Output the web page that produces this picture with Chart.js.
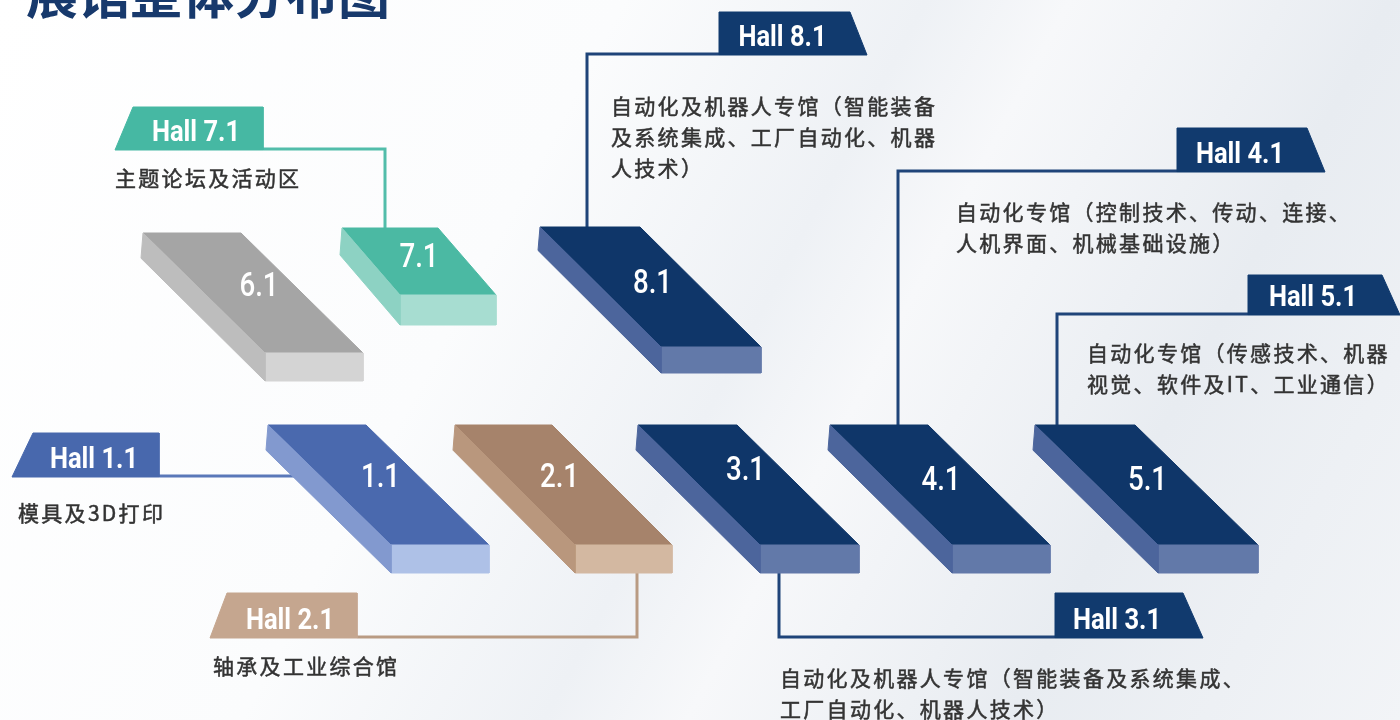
<!DOCTYPE html>
<html>
<head>
<meta charset="utf-8">
<script src="https://cdn.jsdelivr.net/npm/chart.js@4.4.1/dist/chart.umd.min.js"></script>
<style>
  html, body { margin: 0; padding: 0; }
  body {
    width: 1400px; height: 720px; overflow: hidden;
    background: linear-gradient(118deg, #ffffff 0%, #fbfcfd 35%, #eef1f5 52%, #f7f8fa 60%, #e8ecf1 78%, #f2f4f7 100%);
  }
  #floor { display: block; }
</style>
</head>
<body>
<canvas id="floor" width="1400" height="720"></canvas>
<script>
const pageTitle = '展馆整体分布图';

// halls, in drawing order
const hallIds   = ['6.1', '7.1', '8.1', '1.1', '2.1', '3.1', '4.1', '5.1'];
const hallTags  = ['', 'Hall 7.1', 'Hall 8.1', 'Hall 1.1', 'Hall 2.1', 'Hall 3.1', 'Hall 4.1', 'Hall 5.1'];
const hallThemes = [
  [],
  ['主题论坛及活动区'],
  ['自动化及机器人专馆（智能装备', '及系统集成、工厂自动化、机器', '人技术）'],
  ['模具及3D打印'],
  ['轴承及工业综合馆'],
  ['自动化及机器人专馆（智能装备及系统集成、', '工厂自动化、机器人技术）'],
  ['自动化专馆（控制技术、传动、连接、', '人机界面、机械基础设施）'],
  ['自动化专馆（传感技术、机器', '视觉、软件及IT、工业通信）']
];
const hallGroup = ['grey', 'teal', 'navy', 'blue', 'tan', 'navy', 'navy', 'navy'];

// ---- layout (plot units = pixels, y down) ----
// slab: roof top-left corner, roof width, skew, depth, wall height
const slabX  = [143, 342, 540, 268, 455, 638, 830, 1035];
const slabY  = [233, 228, 227, 425, 425, 425, 425, 425];
const slabW  = [98, 96, 100, 98, 97, 99, 98, 100];
const slabDx = [122, 58, 121, 123, 120, 122, 122, 123];
const slabH  = [120, 67, 120, 120, 120, 120, 120, 120];
const slabT  = [28, 30, 26, 28, 28, 28, 28, 28];
const labelDx = [6, 0, 2, 2, -4, -3, 1, 1];
const labelDy = [-5, -3, -2, -6, -6, -13, -3, -3];

// tag boxes: slant < 0 cuts the left side, > 0 the right side
const tagLeft   = [0, 133, 719, 33, 227, 1055, 1177, 1248];
const tagRight  = [0, 263, 850, 159, 357, 1183, 1307, 1382];
const tagTop    = [0, 107, 12, 433, 593, 593, 128, 275];
const tagBottom = [0, 150, 55, 477, 638, 638, 172, 315];
const tagSlant  = [0, -18, 17, -21, -17, 20, 18, 18];

// leader lines from tag to hall
const leaderX = [[], [263, 385, 385], [719, 587, 587], [159, 300], [357, 637, 637], [779, 779, 1055], [1177, 898, 898], [1248, 1057, 1057]];
const leaderY = [[], [149, 149, 230], [54, 54, 229], [476, 476], [637, 637, 572], [572, 637, 637], [171, 171, 427], [314, 314, 427]];

// description text anchor (left, first line middle)
const noteX = [0, 115, 611, 18, 213, 780, 956, 1087];
const noteY = [0, 178, 106, 513, 666, 678, 212, 353];
const noteGap = 31;

const palette = {
  grey: { roof: '#a5a5a5', side: '#bdbdbd', front: '#d4d4d4', tag: '#a5a5a5', line: '#a5a5a5' },
  teal: { roof: '#4bb9a3', side: '#8dd2c3', front: '#a7ddd1', tag: '#46b8a3', line: '#52bdaa' },
  navy: { roof: '#0f3669', side: '#4c659c', front: '#6279a9', tag: '#113a6e', line: '#1f4479' },
  blue: { roof: '#4a69ae', side: '#8299cf', front: '#aec1e7', tag: '#4868ad', line: '#5a78b9' },
  tan:  { roof: '#a6836b', side: '#b9977d', front: '#d3b8a1', tag: '#c5a68f', line: '#b99b83' }
};

const pts = arr => arr.map(([x, y]) => ({ x, y }));

function polygon(points, color, order) {
  return {
    data: pts(points.concat([points[0]])),
    backgroundColor: color,
    borderColor: color,
    borderWidth: 1,
    fill: 'shape',
    pointRadius: 0,
    tension: 0,
    order
  };
}

const datasets = [];
hallIds.forEach((id, i) => {
  const c = palette[hallGroup[i]];
  const x0 = slabX[i], y0 = slabY[i], w = slabW[i], dx = slabDx[i], h = slabH[i], t = slabT[i];
  const A = [x0, y0], B = [x0 + w, y0], C = [x0 + dx + w, y0 + h], D = [x0 + dx, y0 + h];
  datasets.push(polygon([A, D, [D[0], D[1] + t], [A[0] - 2, A[1] + t * 0.9]], c.side, 1));
  datasets.push(polygon([D, C, [C[0], C[1] + t], [D[0], D[1] + t]], c.front, 1));
  datasets.push(polygon([A, B, C, D], c.roof, 1));

  if (!hallTags[i]) return;
  const l = tagLeft[i], r = tagRight[i], tp = tagTop[i], bt = tagBottom[i], s = tagSlant[i];
  const tag = s < 0
    ? [[l, tp], [r, tp], [r, bt], [l + s, bt]]
    : [[l, tp], [r, tp], [r + s, bt], [l, bt]];
  datasets.push(polygon(tag, c.tag, 2));

  datasets.push({
    data: leaderX[i].map((x, k) => ({ x, y: leaderY[i][k] })),
    borderColor: c.line,
    borderWidth: 3,
    fill: false,
    pointRadius: 0,
    tension: 0,
    order: 3
  });
});

const hallText = {
  id: 'hallText',
  afterDatasetsDraw(chart) {
    const { ctx, scales: { x, y } } = chart;
    ctx.save();

    // title (cut at the top edge like the source)
    ctx.fillStyle = '#17396c';
    ctx.font = 'bold 52px "Noto Sans CJK SC"';
    ctx.textAlign = 'left';
    ctx.textBaseline = 'alphabetic';
    ctx.fillText(pageTitle, x.getPixelForValue(26), y.getPixelForValue(14));

    hallIds.forEach((id, i) => {
      // number on the roof
      const cx = slabX[i] + (slabW[i] + slabDx[i]) / 2 + labelDx[i];
      const cy = slabY[i] + slabH[i] / 2 + labelDy[i];
      ctx.save();
      ctx.translate(x.getPixelForValue(cx), y.getPixelForValue(cy));
      ctx.scale(0.84, 1);
      ctx.fillStyle = '#ffffff';
      ctx.font = '500 33px Roboto';
      ctx.textAlign = 'center';
      ctx.textBaseline = 'middle';
      ctx.fillText(id, 0, 0);
      ctx.restore();

      if (!hallTags[i]) return;
      // tag caption
      ctx.save();
      ctx.translate(x.getPixelForValue((tagLeft[i] + tagRight[i]) / 2 - 2), y.getPixelForValue(tagBottom[i] - 9));
      ctx.scale(0.88, 1);
      ctx.fillStyle = '#ffffff';
      ctx.font = 'bold 29px Roboto';
      ctx.textAlign = 'center';
      ctx.textBaseline = 'alphabetic';
      ctx.fillText(hallTags[i], 0, 0);
      ctx.restore();

      // description
      ctx.fillStyle = '#333333';
      ctx.strokeStyle = '#333333';
      ctx.lineWidth = 0.5;
      ctx.font = '21px "Noto Sans CJK SC"';
      ctx.textAlign = 'left';
      ctx.textBaseline = 'middle';
      ctx.letterSpacing = '2.3px';
      hallThemes[i].forEach((line, k) => {
        const px = x.getPixelForValue(noteX[i]);
        const py = y.getPixelForValue(noteY[i] + k * noteGap);
        ctx.fillText(line, px, py);
        ctx.strokeText(line, px, py);
      });
      ctx.letterSpacing = '0px';
    });
    ctx.restore();
  }
};

new Chart(document.getElementById('floor'), {
  type: 'line',
  data: { datasets },
  options: {
    responsive: false,
    animation: false,
    devicePixelRatio: 1,
    layout: { padding: 0 },
    scales: {
      x: { type: 'linear', min: 0, max: 1400, display: false },
      y: { type: 'linear', min: 0, max: 720, reverse: true, display: false }
    },
    plugins: {
      legend: { display: false },
      tooltip: { enabled: false }
    }
  },
  plugins: [hallText]
});
</script>
</body>
</html>
